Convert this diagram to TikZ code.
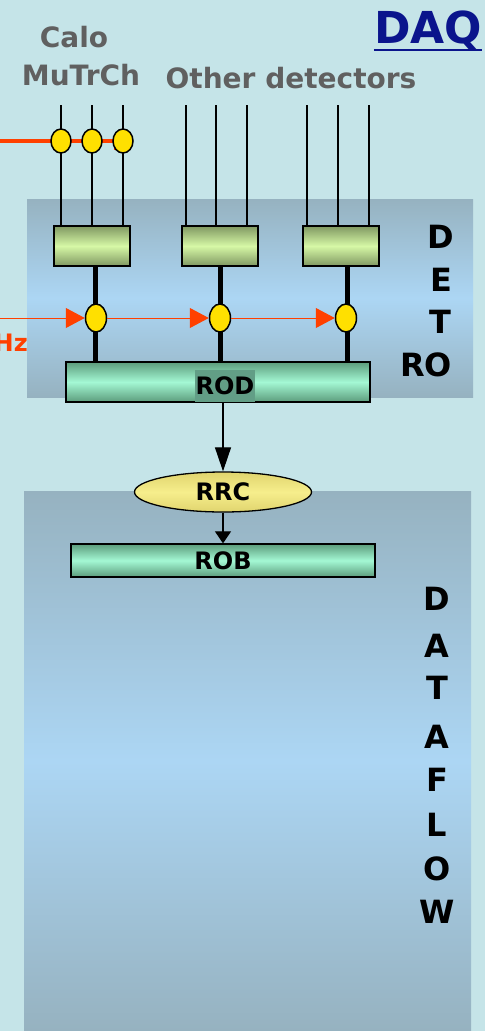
\documentclass[tikz,border=0pt]{standalone}
\usepackage{fontspec}
\setmainfont{DejaVu Sans}
\usetikzlibrary{shapes.geometric,arrows.meta}

\definecolor{bgcyan}{RGB}{197,228,232}
\definecolor{panelgray}{RGB}{150,178,192}
\definecolor{panelblue}{RGB}{172,214,244}
\definecolor{labelgray}{RGB}{96,96,96}
\definecolor{daqblue}{RGB}{10,20,140}
\definecolor{trigred}{RGB}{255,64,0}
\definecolor{feedge}{RGB}{128,152,98}
\definecolor{fecore}{RGB}{214,248,166}
\definecolor{rodedge}{RGB}{92,156,124}
\definecolor{rodcore}{RGB}{164,248,212}
\definecolor{rodtag}{RGB}{98,158,134}
\definecolor{rrcedge}{RGB}{224,212,110}
\definecolor{rrccore}{RGB}{246,238,140}
\definecolor{busyellow}{RGB}{255,224,0}

\tikzset{
  header/.style={font=\bfseries\fontsize{28}{28}\selectfont, text=labelgray, inner sep=0pt},
  sideletter/.style={font=\bfseries\fontsize{32}{32}\selectfont, text=black, inner sep=0pt},
  febox/.style={draw=black, line width=1.3pt, minimum width=76pt, minimum height=40pt,
    inner sep=0pt, top color=feedge, bottom color=feedge, middle color=fecore},
  longbox/.style={draw=black, line width=1.3pt, minimum width=304pt, inner sep=0pt,
    top color=rodedge, bottom color=rodedge, middle color=rodcore},
  boxtext/.style={font=\bfseries\fontsize{24}{24}\selectfont, text=black},
  tap/.style={ellipse, draw=black, line width=1.5pt, fill=busyellow, inner sep=0pt},
  wire/.style={black, line width=1.3pt},
  link/.style={black, line width=5pt},
  trig/.style={trigred, line width=1pt, -{Triangle[length=19pt, width=20pt]}},
  flow/.style={black, line width=1.2pt},
}

\begin{document}
\begin{tikzpicture}[x=1pt, y=-1pt]
\useasboundingbox (0,0) rectangle (485,1031);
\fill[bgcyan] (0,0) rectangle (485,1031);

% panels
\shade[top color=panelgray, bottom color=panelgray, middle color=panelblue]
  (27,199) rectangle (473,397);
\shade[top color=panelgray, bottom color=panelgray, middle color=panelblue]
  (24,491) rectangle (471,1031);

% headings
\node[header] (calo) at (74,37) {Calo};
\node[header] (mutrch) at (81,75) {MuTrCh};
\node[header] (others) at (291,78) {Other detectors};
\node[font=\bfseries\fontsize{44}{44}\selectfont, text=daqblue, inner sep=0pt, anchor=base]
  (daq) at (428,43) {DAQ};
\draw[daqblue, line width=2pt] (daq.west |- 0,50) -- (daq.east |- 0,50);

% front-end boxes
\node[febox] (fe1) at (92,246) {};
\node[febox] (fe2) at (220,246) {};
\node[febox] (fe3) at (341,246) {};

% detector channels
\foreach \x/\b [count=\i] in {61/fe1, 92/fe1, 123/fe1, 186/fe2, 216/fe2, 247/fe2, 307/fe3, 338/fe3, 369/fe3} {
  \coordinate (ch\i) at (\x,105);
  \draw[wire] (ch\i) -- (ch\i |- \b.north);
}

% trigger line across the Calo/MuTrCh channels
\coordinate (trigin) at (0,141);
\coordinate (trigturn) at (116,141);
\coordinate (trigend) at (116,150);
\draw[trigred, line width=4pt] (trigin) -- (trigturn) -- (trigend);
\node[tap, minimum width=20pt, minimum height=24pt] (t1) at (61,141) {};
\node[tap, minimum width=20pt, minimum height=24pt] (t2) at (92,141) {};
\node[tap, minimum width=20pt, minimum height=24pt] (t3) at (123,141) {};

% ROD
\node[longbox, minimum height=40pt] (rod) at (218,382) {};
\node[boxtext, fill=rodtag, minimum width=60pt, minimum height=32pt, inner sep=0pt]
  (rodtag) at (225,386) {ROD};

% links from front-end boxes to the ROD
\foreach \x/\b [count=\i] in {95/fe1, 220/fe2, 347/fe3} {
  \coordinate (lk\i) at (\x,246);
  \draw[link] (lk\i |- \b.south) -- (lk\i |- rod.north);
}

% busy/trigger taps
\node[tap, minimum width=21pt, minimum height=28pt] (m1) at (96,318) {};
\node[tap, minimum width=21pt, minimum height=28pt] (m2) at (220,318) {};
\node[tap, minimum width=21pt, minimum height=28pt] (m3) at (346,318) {};
\coordinate (lvlin) at (0,318);
\draw[trig] (lvlin) -- (m1.west);
\draw[trig] (m1.east) -- (m2.west);
\draw[trig] (m2.east) -- (m3.west);
\node[font=\bfseries\fontsize{24}{24}\selectfont, text=trigred, anchor=east, inner sep=0pt]
  (rate) at (28,342) {kHz};

% DETRO label
\node[sideletter] (dr1) at (441,237) {D};
\node[sideletter] (dr2) at (441,280) {E};
\node[sideletter] (dr3) at (440,322) {T};
\node[sideletter] (dr4) at (426,365) {RO};

% RRC and ROB
\node[ellipse, draw=black, line width=1.3pt, minimum width=177pt, minimum height=40pt,
  inner sep=0pt, top color=rrcedge, bottom color=rrcedge, middle color=rrccore, boxtext]
  (rrc) at (223,492) {RRC};
\node[longbox, minimum height=33pt, boxtext] (rob) at (223,560.5) {ROB};

\draw[flow, -{Triangle[length=24pt, width=16pt]}] (rod.south -| rrc.north) -- (rrc.north);
\draw[flow, -{Triangle[length=12pt, width=16pt]}] (rrc.south) -- (rrc.south |- rob.north);

% DATAFLOW label
\foreach \l/\y [count=\i] in {D/599, A/646, T/688, A/737, F/780, L/825, O/869, W/912} {
  \node[sideletter] (df\i) at (437,\y) {\l};
}
\end{tikzpicture}
\end{document}
